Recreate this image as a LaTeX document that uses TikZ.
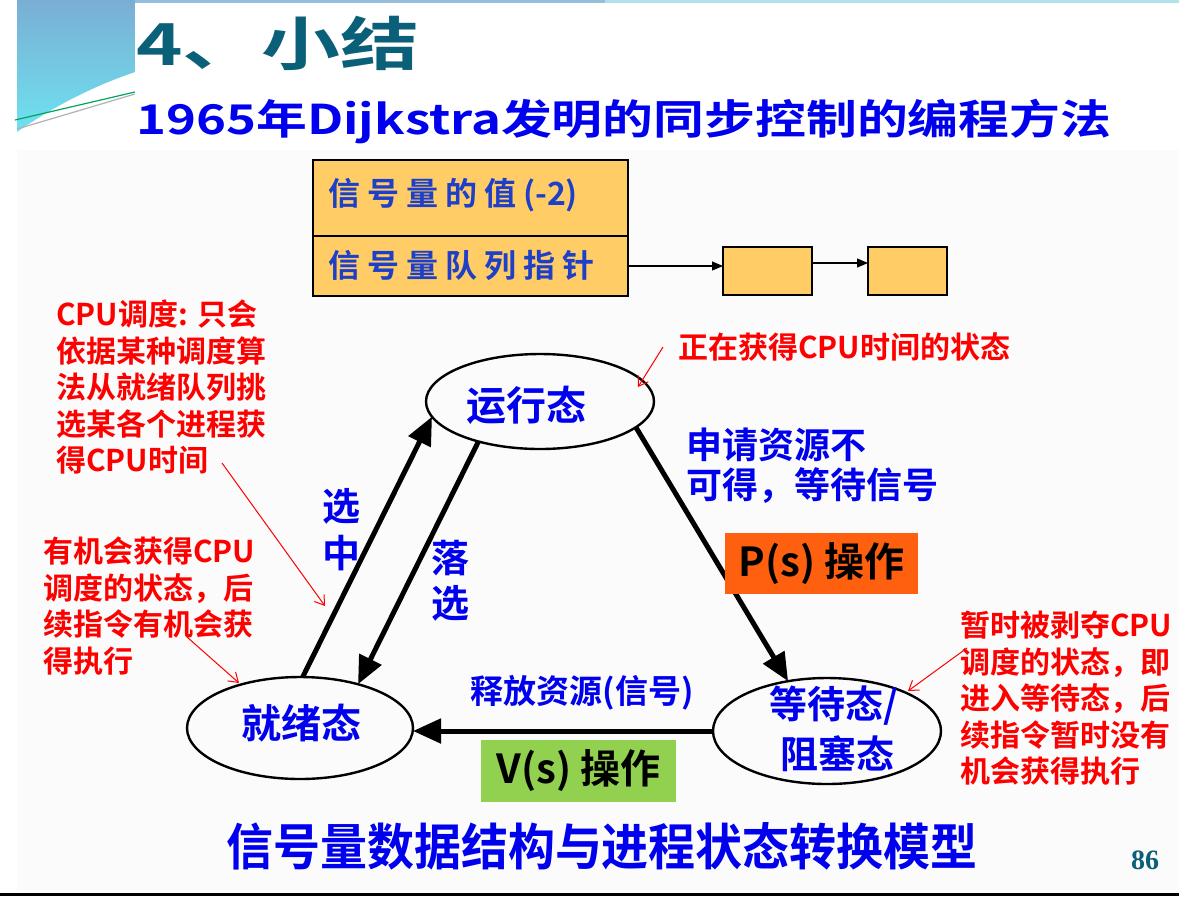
\documentclass[tikz,border=0pt]{standalone}
\usepackage{fontspec}
\setmainfont{Noto Sans CJK SC}[BoldFont=* Bold]
\newfontfamily\pagefont{Liberation Serif}
\usetikzlibrary{shapes.geometric,arrows.meta,calc}

\definecolor{titleteal}{RGB}{10,96,120}
\definecolor{textblue}{RGB}{0,0,238}
\definecolor{cellblue}{RGB}{30,64,200}
\definecolor{notered}{RGB}{255,0,0}
\definecolor{cellfill}{RGB}{255,204,102}
\definecolor{porange}{RGB}{255,96,16}
\definecolor{vgreen}{RGB}{146,208,80}
\definecolor{decoblue}{RGB}{122,174,212}
\definecolor{decocyan}{RGB}{110,226,240}
\definecolor{bandcyan}{RGB}{176,226,234}

\tikzset{
  state/.style={ellipse, draw=black, line width=2.4pt, inner sep=0pt, outer sep=0pt},
  statetext/.style={text=textblue, font=\fontsize{40}{50}\selectfont\bfseries, align=center, inner sep=0pt},
  flow/.style={line width=5pt, -{Triangle[length=28pt,width=24pt]}},
  note/.style={text=notered, font=\fontsize{30}{36.5}\selectfont\bfseries, align=left, inner sep=0pt, anchor=north west},
  pointer/.style={draw=notered, line width=1pt, -{Straight Barb[length=9pt,width=12pt]}},
  bluelabel/.style={text=textblue, font=\fontsize{36}{40}\selectfont\bfseries, align=left, inner sep=0pt},
  cell/.style={draw=black, line width=2pt, fill=cellfill, minimum width=315pt, inner sep=0pt, outer sep=0pt, anchor=north west},
  celltext/.style={text=cellblue, font=\fontsize{32}{36}\selectfont\bfseries, inner sep=0pt, anchor=west},
  qbox/.style={draw=black, line width=1.6pt, fill=cellfill, minimum height=48pt, inner sep=0pt, outer sep=0pt, anchor=north west},
  link/.style={line width=1.2pt, -{Triangle[length=11pt,width=9pt]}},
  opbox/.style={text=black, font=\fontsize{40}{44}\selectfont\bfseries, inner sep=0pt, minimum height=61pt}
}

\newcommand\gap{\hspace{7pt}}

\begin{document}
\begin{tikzpicture}[x=1pt,y=-1pt]
\useasboundingbox (0,0) rectangle (1179,898);

% page background
\fill[white] (0,0) rectangle (1179,898);
\fill[black!1.5] (17,150) rectangle (1179,890);

% header decoration on the left
\shade[top color=decoblue, bottom color=decocyan]
  (17,0) -- (135,0) -- (135,72) .. controls (100,84) and (60,102) .. (17,132) -- cycle;
\draw[line width=1.2pt, color=teal!70!green] (15,120) -- (135,92);
\draw[line width=1.2pt, color=gray!60] (17,129) -- (135,94);
\fill[decoblue!80] (135,0) rectangle (605,3);
\fill[bandcyan] (605,0) rectangle (1179,3);
\fill[white] (135,3) rectangle (1179,150);

% titles
\node[anchor=west, inner sep=0pt, text=titleteal] (title) at (136,43)
  {\fontsize{58}{60}\selectfont\bfseries\scalebox{1.36}[1]{4、小结}};
\node[anchor=west, inner sep=0pt, text=textblue] (subtitle) at (136,121)
  {\fontsize{41}{45}\selectfont\bfseries\scalebox{1.24}[1]{1965年Dijkstra发明的同步控制的编程方法}};

% semaphore record and its waiting queue
\node[cell, minimum height=76pt] (val) at (313,160) {};
\node[cell, minimum height=60pt] (ptr) at (313,236) {};
\node[celltext] (valtext) at ($(val.west)+(15,-3)$) {信\gap 号\gap 量\gap 的\gap 值\gap(-2)};
\node[celltext] (ptrtext) at ($(ptr.west)+(15,-1)$) {信\gap 号\gap 量\gap 队\gap 列\gap 指\gap 针};
\node[qbox, minimum width=89pt] (q1) at (723,247) {};
\node[qbox, minimum width=79pt] (q2) at (868,247) {};
\draw[link] (ptr.east) -- (ptr.east -| q1.west);
\draw[link] ([yshift=8pt]q1.east) -- ([yshift=8pt]q2.west);

% process states
\node[state, minimum width=228pt, minimum height=95pt] (run) at (540,401.5) {};
\node[state, minimum width=226pt, minimum height=102pt] (ready) at (300,728) {};
\node[state, minimum width=228pt, minimum height=106pt] (wait) at (827,731) {};
\node[statetext] (runtext) at (526,405) {运行态};
\node[statetext] (readytext) at (301,723) {就绪态};
\node[statetext, font=\fontsize{38}{50}\selectfont\bfseries] (waittext) at (834,729) {等待态/\\\hspace*{6pt}阻塞态};

% transitions
\draw[flow] (ready.87) -- (run.188);
\draw[flow] (run.213) -- (ready.37);
\draw[flow] (run.345) -- (wait.128);
\draw[flow] (wait.west) -- (wait.west -| ready.east);

% transition labels
\node[bluelabel, font=\fontsize{38}{47}\selectfont\bfseries] (sel) at (341,530) {选\\中};
\node[bluelabel, font=\fontsize{38}{45}\selectfont\bfseries] (drop) at (450,581) {落\\选};
\node[bluelabel, anchor=north west] (req) at (686,428) {申请资源不\\可得，等待信号};
\node[bluelabel, font=\fontsize{33}{36}\selectfont\bfseries] (rel) at (582,693) {释放资源(信号)};
\node[opbox, fill=porange, minimum width=193pt] (pop) at (821.5,563.5) {P(s) 操作};
\node[opbox, fill=vgreen, minimum width=195pt, minimum height=62pt] (vop) at (578.5,771) {V(s) 操作};

% red annotations
\node[note] (cpunote) at (56,300) {CPU调度: 只会\\依据某种调度算\\法从就绪队列挑\\选某各个进程获\\得CPU时间};
\node[note] (chancenote) at (43,537) {有机会获得CPU\\调度的状态，后\\续指令有机会获\\得执行};
\node[note] (runnote) at (678,332) {正在获得CPU时间的状态};
\node[note] (blocknote) at (960,611) {暂时被剥夺CPU\\调度的状态，即\\进入等待态，后\\续指令暂时没有\\机会获得执行};

\coordinate (runtail) at (663,347);
\coordinate (runhead) at (638,387);
\coordinate (cputail) at (222,463);
\coordinate (cpuhead) at (325,606);
\coordinate (chancetail) at (187,637);
\coordinate (chancehead) at (239,683);
\coordinate (blocktail) at (967,648);
\coordinate (blockhead) at (908,691);
\draw[pointer] (runtail) -- (runhead);
\draw[pointer] (cputail) -- (cpuhead);
\draw[pointer] (chancetail) -- (chancehead);
\draw[pointer] (blocktail) -- (blockhead);

% caption and page number
\node[inner sep=0pt, text=textblue] (caption) at (602,846)
  {\fontsize{50}{54}\selectfont\bfseries\scalebox{0.94}[1]{信号量数据结构与进程状态转换模型}};
\node[inner sep=0pt, text=titleteal, font=\fontsize{28}{30}\selectfont\pagefont\bfseries] (pageno) at (1145,860) {86};
\draw[line width=2.6pt] (0,894.5) -- (1179,894.5);
\end{tikzpicture}
\end{document}
